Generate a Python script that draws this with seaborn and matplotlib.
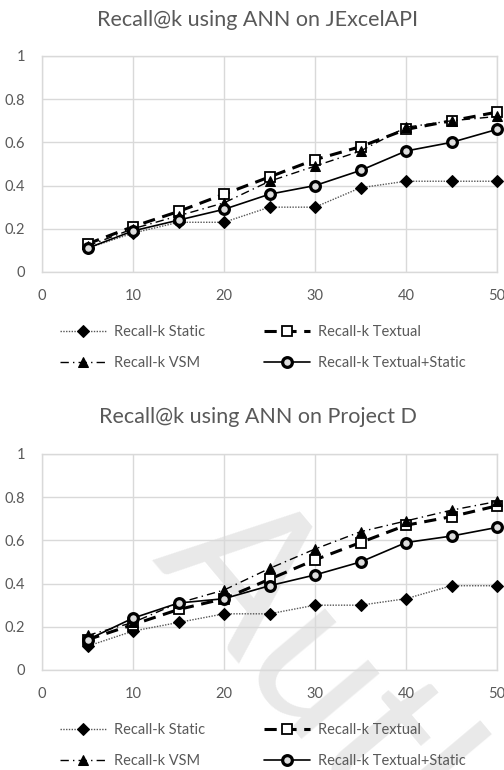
import matplotlib
matplotlib.use("Agg")
import matplotlib.pyplot as plt
import seaborn as sns

sns.set_style("whitegrid")
plt.rcParams["font.family"] = ["Lato", "DejaVu Sans"]

# ================================
# Data
# ================================
k_values = [5, 10, 15, 20, 25, 30, 35, 40, 45, 50]

titles = ["Recall@k using ANN on JExcelAPI", "Recall@k using ANN on Project D"]
series_names = ["Recall-k Static", "Recall-k Textual", "Recall-k VSM", "Recall-k Textual+Static"]

jexcel_static = [0.11, 0.18, 0.23, 0.23, 0.30, 0.30, 0.39, 0.42, 0.42, 0.42]
jexcel_textual = [0.13, 0.21, 0.28, 0.36, 0.44, 0.52, 0.58, 0.66, 0.70, 0.74]
jexcel_vsm = [0.12, 0.20, 0.26, 0.32, 0.42, 0.49, 0.56, 0.67, 0.70, 0.72]
jexcel_combined = [0.11, 0.19, 0.24, 0.29, 0.36, 0.40, 0.47, 0.56, 0.60, 0.66]

projd_static = [0.11, 0.18, 0.22, 0.26, 0.26, 0.30, 0.30, 0.33, 0.39, 0.39]
projd_textual = [0.14, 0.21, 0.28, 0.33, 0.42, 0.51, 0.59, 0.67, 0.71, 0.76]
projd_vsm = [0.16, 0.22, 0.31, 0.37, 0.47, 0.56, 0.64, 0.69, 0.74, 0.78]
projd_combined = [0.14, 0.24, 0.31, 0.33, 0.39, 0.44, 0.50, 0.59, 0.62, 0.66]

y_ticks = [0, 0.2, 0.4, 0.6, 0.8, 1.0]
y_tick_labels = ["0", "0.2", "0.4", "0.6", "0.8", "1"]
x_ticks = [0, 10, 20, 30, 40, 50]

# line styles for the four series
styles = [
    dict(color="#555555", linestyle=(0, (1, 1)), linewidth=1.0, marker="D", markersize=6.5,
         markerfacecolor="black", markeredgecolor="black"),
    dict(color="black", linestyle=(0, (4, 2.5)), linewidth=2.2, marker="s", markersize=6.5,
         markerfacecolor="white", markeredgecolor="black", markeredgewidth=1.3),
    dict(color="black", linestyle=(0, (6, 3, 1, 3)), linewidth=1.0, marker="^", markersize=6.5,
         markerfacecolor="black", markeredgecolor="black"),
    dict(color="black", linestyle="-", linewidth=1.2, marker="o", markersize=7,
         markerfacecolor="#dddddd", markeredgecolor="black", markeredgewidth=2.3),
]

fig = plt.figure(figsize=(5.04, 7.7), dpi=100)

panels = [
    (titles[0], [jexcel_static, jexcel_textual, jexcel_vsm, jexcel_combined], 0.6468, 20, 331),
    (titles[1], [projd_static, projd_textual, projd_vsm, projd_combined], 0.1299, 417, 729),
]

grey_grid = "#d9d9d9"
tick_color = "#595959"

for title, values, bottom, title_px, legend_px in panels:
    ax = fig.add_axes([42 / 504, bottom, 455 / 504, 216 / 770])
    ax.set_facecolor("none")
    for name, vals, st in zip(series_names, values, styles):
        sns.lineplot(x=k_values, y=vals, ax=ax, label=name, clip_on=False, zorder=3, **st)
    ax.set_xlim(0, 50)
    ax.set_ylim(0, 1)
    ax.set_xticks(x_ticks)
    ax.set_yticks(y_ticks)
    ax.set_yticklabels(y_tick_labels)
    ax.tick_params(axis="both", length=0, labelsize=10.5, colors=tick_color)
    ax.tick_params(axis="x", pad=12)
    ax.tick_params(axis="y", pad=12)
    ax.grid(True, color=grey_grid, linewidth=1.0)
    for sp in ax.spines.values():
        sp.set_color(grey_grid)
        sp.set_linewidth(1.0)
    ax.set_xlabel("")
    ax.set_ylabel("")
    ax.get_legend().remove()

    # legend: two columns, static/vsm left, textual/combined right
    h, l = ax.get_legend_handles_labels()
    order = [0, 2, 1, 3]
    fig.legend([h[i] for i in order], [l[i] for i in order], ncol=2,
               loc="upper left", bbox_to_anchor=(47 / 504, 1 - (legend_px - 19) / 770),
               frameon=False, fontsize=10.5, handlelength=3.2, handletextpad=0.5,
               columnspacing=4.0, labelspacing=1.15, labelcolor=tick_color)

    fig.text(258 / 504, 1 - title_px / 770, title, ha="center", va="center",
             fontsize=15.5, color=tick_color)

# faint watermark over the second chart
fig.text(150 / 504, 1 - 560 / 770, "Author", fontsize=145, color="#e9e9e9",
         rotation=-50, rotation_mode="anchor", ha="left", va="baseline", zorder=-1)

fig.savefig("out.png", dpi=100)
plt.close(fig)
